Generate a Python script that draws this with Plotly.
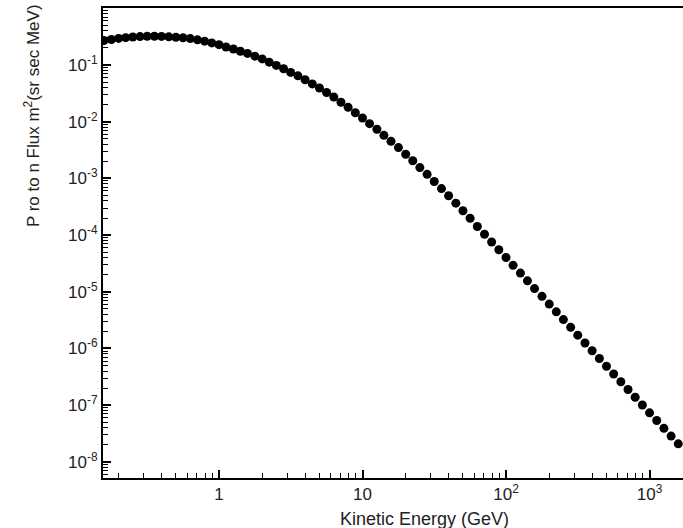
import plotly.graph_objects as go

# Kinetic energy (GeV)
energy = [0.158, 0.178, 0.2, 0.224, 0.251, 0.282, 0.316, 0.355, 0.398, 0.447,
          0.501, 0.562, 0.631, 0.708, 0.794, 0.891,
          1.0, 1.12, 1.26, 1.41, 1.58, 1.78, 2.0, 2.24, 2.51, 2.82,
          3.16, 3.55, 3.98, 4.47, 5.01, 5.62, 6.31, 7.08, 7.94, 8.91,
          10, 11.2, 12.6, 14.1, 15.8, 17.8, 20, 22.4, 25.1, 28.2,
          31.6, 35.5, 39.8, 44.7, 50.1, 56.2, 63.1, 70.8, 79.4, 89.1,
          100, 112, 126, 141, 158, 178, 200, 224, 251, 282,
          316, 355, 398, 447, 501, 562, 631, 708, 794, 891,
          1000, 1122, 1259, 1413, 1585]

# Proton flux
flux = [0.270, 0.282, 0.294, 0.303, 0.312, 0.317, 0.321, 0.321, 0.319, 0.314,
        0.309, 0.302, 0.292, 0.278, 0.263, 0.245,
        0.228, 0.208, 0.191, 0.175, 0.160, 0.143, 0.128, 0.112, 0.0984, 0.0857,
        0.0740, 0.0643, 0.0548, 0.0464, 0.0392, 0.0327, 0.0272, 0.0220, 0.0179, 0.0144,
        0.0116, 0.00923, 0.00735, 0.00575, 0.00450, 0.00349, 0.00267, 0.00205, 0.00155, 0.00118,
        8.81e-4, 6.61e-4, 4.93e-4, 3.66e-4, 2.69e-4, 1.98e-4, 1.42e-4, 1.035e-4, 7.55e-5, 5.51e-5,
        4.02e-5, 2.93e-5, 2.14e-5, 1.56e-5, 1.14e-5, 8.32e-6, 6.07e-6, 4.43e-6, 3.23e-6, 2.36e-6,
        1.72e-6, 1.25e-6, 9.14e-7, 6.67e-7, 4.86e-7, 3.55e-7, 2.59e-7, 1.89e-7, 1.38e-7, 1.007e-7,
        7.34e-8, 5.36e-8, 3.91e-8, 2.85e-8, 2.08e-8]

x_tickvals = [1, 10, 100, 1000]
x_ticktext = ["1", "10", "10<sup>2</sup>", "10<sup>3</sup>"]
y_tickvals = [1e-1, 1e-2, 1e-3, 1e-4, 1e-5, 1e-6, 1e-7, 1e-8]
y_ticktext = ["10<sup>-1</sup>", "10<sup>-2</sup>", "10<sup>-3</sup>", "10<sup>-4</sup>",
              "10<sup>-5</sup>", "10<sup>-6</sup>", "10<sup>-7</sup>", "10<sup>-8</sup>"]

x_title = "Kinetic Energy (GeV)"
y_title = "P ro to n Flux m<sup>2</sup>(sr sec MeV)"

FONT = "Arial, 'Liberation Sans', sans-serif"

fig = go.Figure()
fig.add_trace(go.Scatter(
    x=energy, y=flux, mode="markers",
    marker=dict(color="black", size=9, line=dict(width=0)),
    showlegend=False,
))

fig.update_layout(
    width=683, height=528,
    margin=dict(l=103, r=0, t=8, b=50),
    paper_bgcolor="white", plot_bgcolor="white",
    font=dict(family=FONT, size=16, color="#222"),
)

fig.update_xaxes(
    type="log", range=[-0.808, 3.233],
    showgrid=False, zeroline=False,
    showline=True, linecolor="black", linewidth=2, mirror=True,
    ticks="inside", ticklen=8, tickwidth=2, tickcolor="black",
    tickvals=x_tickvals, ticktext=x_ticktext,
    minor=dict(ticks="inside", ticklen=5, tickwidth=1, tickcolor="black", dtick="D1", showgrid=False),
    tickfont=dict(size=17, color="#222"),
)
fig.update_yaxes(
    type="log", range=[-8.284, 0.005],
    showgrid=False, zeroline=False,
    showline=True, linecolor="black", linewidth=2,
    ticks="inside", ticklen=8, tickwidth=2, tickcolor="black",
    tickvals=y_tickvals, ticktext=y_ticktext,
    minor=dict(ticks="inside", ticklen=5, tickwidth=1, tickcolor="black", dtick="D1", showgrid=False),
    tickfont=dict(size=17, color="#222"),
)

fig.add_annotation(
    text=x_title, xref="paper", yref="paper", x=0.555, y=-0.087,
    showarrow=False, font=dict(size=18, color="#222"), xanchor="center", yanchor="middle",
)
fig.add_annotation(
    text=y_title, xref="paper", yref="paper", x=-0.1224, y=0.77,
    showarrow=False, textangle=-90, font=dict(size=17, color="#222"),
    xanchor="center", yanchor="middle",
)

fig.write_html("out.html")
